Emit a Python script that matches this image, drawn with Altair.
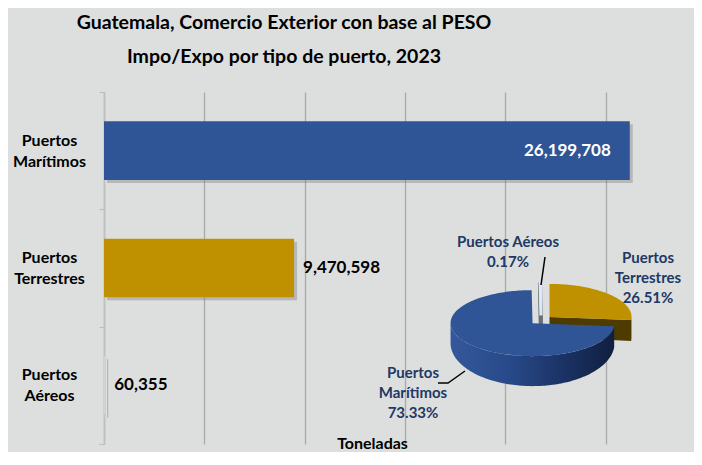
import altair as alt
import numpy as np
import pandas as pd

# ---------------- data ----------------
categories = ["Puertos Marítimos", "Puertos Terrestres", "Puertos Aéreos"]
tonnes = [26199708, 9470598, 60355]
bar_colors = ["#2f5597", "#bf9000", "#d0d3d3"]
x_ticks = [0, 5_000_000, 10_000_000, 15_000_000, 20_000_000, 25_000_000]

title_lines = ["Guatemala, Comercio Exterior con base al PESO",
               "Impo/Expo por tipo de puerto, 2023"]
x_title = "Toneladas"

# pie: clockwise order from 12 o'clock, label names
pie_order = ["Puertos Terrestres", "Puertos Marítimos", "Puertos Aéreos"]
pie_names = {"Puertos Terrestres": "Puertos\nTerrestres",
             "Puertos Marítimos": "Puertos\nMarítimos",
             "Puertos Aéreos": "Puertos Aéreos"}
pie_top_colors = {"Puertos Terrestres": "#bf9000",
                  "Puertos Marítimos": "#2f5597",
                  "Puertos Aéreos": "#dce8f5"}
pie_side_colors = {"Puertos Terrestres": "#4d3b00",
                   "Puertos Marítimos": "#22417d",
                   "Puertos Aéreos": "#6b6f73"}

# ---------------- layout (not data) ----------------
FONT = "Lato"
W, H = 590, 352
XMAX = 29_400_000
# pie geometry in pixel units relative to pie centre
RX, RY, EXPLODE = 82, 33, 0.14
D0, D1 = 20, 10            # wall depth = D0 - D1*cos(theta)  (perspective)
PIE_XDOM = [-437, 153]
PIE_YDOM = [-228, 124]
label_pos = {"Puertos Aéreos": (-33, -78),
             "Puertos Terrestres": (107, -62),
             "Puertos Marítimos": (-128, 53)}
leaders = {"Puertos Aéreos": [(4, -63), (0, -35)],
           "Puertos Marítimos": [(-103, 63), (-93, 63), (-76, 51)]}

# ---------------- bar chart ----------------
bars_df = pd.DataFrame({"cat": categories, "tonnes": tonnes,
                        "color": bar_colors,
                        "label": [f"{v:,}" for v in tonnes]})

x_enc = alt.X("tonnes:Q",
              scale=alt.Scale(domain=[0, XMAX], nice=False, zero=True),
              axis=alt.Axis(values=x_ticks, labels=False, ticks=False, domain=False,
                            grid=True, gridColor="#a9a9a9", gridWidth=1.3,
                            title=x_title, titleFont=FONT, titleFontSize=16,
                            titleFontWeight="bold", titleColor="#000000",
                            titleX=268, titleY=4, titleBaseline="alphabetic",
                            titleAlign="center"))
y_enc = alt.Y("cat:N", sort=categories,
              scale=alt.Scale(paddingInner=0, paddingOuter=0),
              axis=alt.Axis(title=None, labelExpr="split(datum.label, ' ')",
                            labelFont=FONT, labelFontSize=16, labelFontWeight="bold",
                            labelColor="#000000", labelAlign="center",
                            labelBaseline="middle", labelLineHeight=21,
                            labelOffset=-10.5,
                            labelPadding=50, tickBand="extent", tickSize=5,
                            tickColor="#bfbfbf", domainColor="#bfbfbf",
                            domainWidth=1.5, tickWidth=1.2, grid=False))

base = alt.Chart(bars_df).encode(x=x_enc, y=y_enc)
shadow = base.mark_bar(height=alt.RelativeBandSize(0.5), color="#6f6f6f",
                       opacity=0.35, xOffset=3, yOffset=3)
bars = base.mark_bar(height=alt.RelativeBandSize(0.5)).encode(
    color=alt.Color("color:N", scale=None))
lab_in = base.transform_joinaggregate(mx="max(tonnes)").transform_filter(
    "datum.tonnes == datum.mx").mark_text(
    align="right", dx=-19, color="white", font=FONT, fontSize=17,
    fontWeight="bold", baseline="middle").encode(text="label:N")
lab_out = base.transform_joinaggregate(mx="max(tonnes)").transform_filter(
    "datum.tonnes != datum.mx").mark_text(
    align="left", dx=9, color="black", font=FONT, fontSize=17,
    fontWeight="bold", baseline="middle").encode(text="label:N")
bar_group = alt.layer(shadow, bars, lab_in, lab_out)

# ---------------- 3D pie (geometry derived from the values) ----------------
total = sum(tonnes)


def pt(cx, cy, th, depth=False):
    t = np.radians(th)
    y = cy - RY * np.cos(t)
    if depth:
        y += D0 - D1 * np.cos(t)
    return (cx + RX * np.sin(t), y)


faces, walls, tops = [], [], []
pcts = {}
start = 0.0
for name in pie_order:
    share = tonnes[categories.index(name)] / total
    pcts[name] = share * 100
    a0, a1 = start, start + share * 360
    start = a1
    mid = np.radians((a0 + a1) / 2)
    cx, cy = EXPLODE * RX * np.sin(mid), -EXPLODE * RY * np.cos(mid)
    n = max(2, int((a1 - a0) / 1.5) + 2)
    arc = np.linspace(a0, a1, n)
    tops.append((name, pie_top_colors[name],
                 [(cx, cy)] + [pt(cx, cy, a) for a in arc]))
    # outer wall, front half only
    lo, hi = max(a0, 90), min(a1, 270)
    if hi > lo:
        w = np.linspace(lo, hi, max(2, int((hi - lo) / 1.5) + 2))
        poly = [pt(cx, cy, a) for a in w] + [pt(cx, cy, a, True) for a in w[::-1]]
        (walls if name == "Puertos Marítimos" else faces).append(
            (name + " wall", pie_side_colors[name], poly))
    # radial cut faces facing the viewer
    for ang, vis in ((a1, np.sin(np.radians(a1)) > 1e-9),
                     (a0, np.sin(np.radians(a0)) < -1e-9)):
        if vis:
            poly = [(cx, cy), pt(cx, cy, ang), pt(cx, cy, ang, True),
                    (cx, cy + D0)]
            faces.append((name + f" cut{ang:.1f}", pie_side_colors[name], poly))


def to_df(polys):
    rows = []
    for pid, col, poly in polys:
        for i, (x, y) in enumerate(poly + [poly[0]]):
            rows.append({"pid": pid, "fill": col, "i": i, "px": x, "py": y})
    return pd.DataFrame(rows)


px_enc = alt.X("px:Q", scale=alt.Scale(domain=PIE_XDOM, nice=False, zero=False), axis=None)
py_enc = alt.Y("py:Q", scale=alt.Scale(domain=PIE_YDOM, nice=False, zero=False, reverse=True), axis=None)

faces_df = to_df(faces)
faces_layer = alt.Chart(faces_df).mark_line(filled=True, strokeWidth=0.5).encode(
    x=px_enc, y=py_enc, detail="pid:N", order="i:Q",
    color=alt.Color("fill:N", scale=None))
aereo_cut = alt.Chart(faces_df).transform_filter(
    "indexof(datum.pid, 'Aéreos') >= 0").mark_line(strokeWidth=4, color="#6b6f73").encode(
    x=px_enc, y=py_enc, detail="pid:N", order="i:Q")

wall_grad = alt.Gradient(gradient="linear", x1=0, x2=1, y1=0, y2=0,
                         stops=[alt.GradientStop(color="#34589a", offset=0),
                                alt.GradientStop(color="#284a8a", offset=0.35),
                                alt.GradientStop(color="#1a3263", offset=0.7),
                                alt.GradientStop(color="#101f3f", offset=1)])
walls_layer = alt.Chart(to_df(walls)).mark_line(
    filled=True, fill=wall_grad, strokeWidth=0).encode(
    x=px_enc, y=py_enc, detail="pid:N", order="i:Q")

tops_df = to_df(tops)
tops_layer = alt.Chart(tops_df).mark_line(filled=True, strokeWidth=0.5).encode(
    x=px_enc, y=py_enc, detail="pid:N", order="i:Q",
    color=alt.Color("fill:N", scale=None))
aereo_top = alt.Chart(tops_df).transform_filter(
    "indexof(datum.pid, 'Aéreos') >= 0").mark_line(strokeWidth=3, color="#dce8f5").encode(
    x=px_enc, y=py_enc, detail="pid:N", order="i:Q")

lead_rows = []
for name, pts_ in leaders.items():
    for i, (x, y) in enumerate(pts_):
        lead_rows.append({"pid": name, "i": i, "px": x, "py": y})
lead_layer = alt.Chart(pd.DataFrame(lead_rows)).mark_line(
    color="#000000", strokeWidth=1.5).encode(x=px_enc, y=py_enc, detail="pid:N", order="i:Q")

lab_df = pd.DataFrame([{"px": label_pos[n][0], "py": label_pos[n][1],
                        "txt": f"{pie_names[n]}\n{pcts[n]:.2f}%"} for n in pie_order])
pie_labels = alt.Chart(lab_df).mark_text(
    font=FONT, fontSize=15, fontWeight="bold", color="#1f3864",
    lineBreak="\n", lineHeight=20, align="center", baseline="middle").encode(
    x=px_enc, y=py_enc, text="txt:N")

pie_group = alt.layer(faces_layer, aereo_cut, walls_layer, tops_layer, aereo_top,
                      lead_layer, pie_labels)

chart = alt.layer(bar_group, pie_group).resolve_scale(
    x="independent", y="independent", color="independent"
).properties(
    width=W, height=H,
    autosize=alt.AutoSizeParams(type="none"),
    padding={"left": 96, "top": 84, "right": 0, "bottom": 8},
    background="#dcdfde",
    title=alt.TitleParams(text=title_lines, anchor="middle", dx=-115,
                          font=FONT, fontSize=19.5, fontWeight="bold",
                          color="#000000", lineHeight=34, offset=17),
).configure_view(stroke=None)

chart.save("out.html", embed_options={"renderer": "svg", "actions": False})
